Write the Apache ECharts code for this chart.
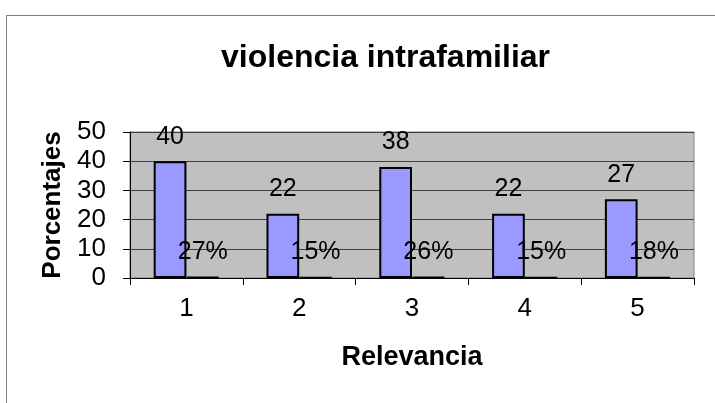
<!DOCTYPE html>
<html>
<head>
<meta charset="utf-8">
<script src="https://cdn.jsdelivr.net/npm/echarts@6/dist/echarts.min.js"></script>
<style>
  html, body { margin: 0; padding: 0; background: #fff; }
  #frame { position: absolute; left: 6px; top: 15px; width: 740px; height: 420px; border: 1px solid #808080; }
  #chart { width: 715px; height: 403px; position: absolute; left: 0; top: 0; }
</style>
</head>
<body>
<div id="frame"></div>
<div id="chart"></div>
<script>
const categories = ['1', '2', '3', '4', '5'];
const counts = [40, 22, 38, 22, 27];
const shares = [0.27, 0.15, 0.26, 0.15, 0.18];
const yTicks = [0, 10, 20, 30, 40, 50];

const chart = echarts.init(document.getElementById('chart'));
const font = 'Liberation Sans, Arial, sans-serif';

chart.setOption({
  backgroundColor: 'transparent',
  animation: false,
  title: {
    text: 'violencia intrafamiliar',
    left: 216,
    top: 37,
    textStyle: { fontFamily: font, fontSize: 32, fontWeight: 'bold', color: '#000' }
  },
  grid: {
    left: 130, top: 132, right: 21, bottom: 125,
    show: true, backgroundColor: '#C0C0C0', borderColor: '#808080', borderWidth: 1
  },
  xAxis: {
    type: 'category',
    data: categories,
    name: 'Relevancia',
    nameLocation: 'middle',
    nameGap: 66,
    nameTextStyle: { fontFamily: font, fontSize: 27, fontWeight: 'bold', color: '#000' },
    axisLine: { lineStyle: { color: '#000', width: 1 } },
    axisTick: { show: true, length: 7, lineStyle: { color: '#000' } },
    axisLabel: { fontFamily: font, fontSize: 26, color: '#000', margin: 18 }
  },
  yAxis: {
    type: 'value',
    min: yTicks[0],
    max: yTicks[yTicks.length - 1],
    interval: 10,
    name: 'Porcentajes',
    nameLocation: 'middle',
    nameGap: 58,
    nameTextStyle: { fontFamily: font, fontSize: 26, fontWeight: 'bold', color: '#000' },
    axisLine: { show: true, lineStyle: { color: '#000', width: 1 } },
    axisTick: { show: true, length: 7, lineStyle: { color: '#000' } },
    axisLabel: { fontFamily: font, fontSize: 26, color: '#000', margin: 24 },
    splitLine: { show: true, lineStyle: { color: '#404040', width: 1 } }
  },
  series: [
    {
      name: 'Frecuencia',
      type: 'bar',
      data: counts,
      barGap: '0%',
      barCategoryGap: '42%',
      itemStyle: { color: '#9999FF', borderColor: '#000', borderWidth: 2 },
      label: {
        show: true, position: 'top', distance: 12,
        fontFamily: font, fontSize: 25, color: '#000'
      }
    },
    {
      name: 'Porcentaje',
      type: 'bar',
      data: shares,
      itemStyle: { color: '#993366', borderColor: '#000', borderWidth: 2 },
      label: {
        show: true, position: 'top', distance: 12,
        fontFamily: font, fontSize: 25, color: '#000',
        formatter: p => Math.round(p.value * 100) + '%'
      }
    }
  ]
});
</script>
</body>
</html>
